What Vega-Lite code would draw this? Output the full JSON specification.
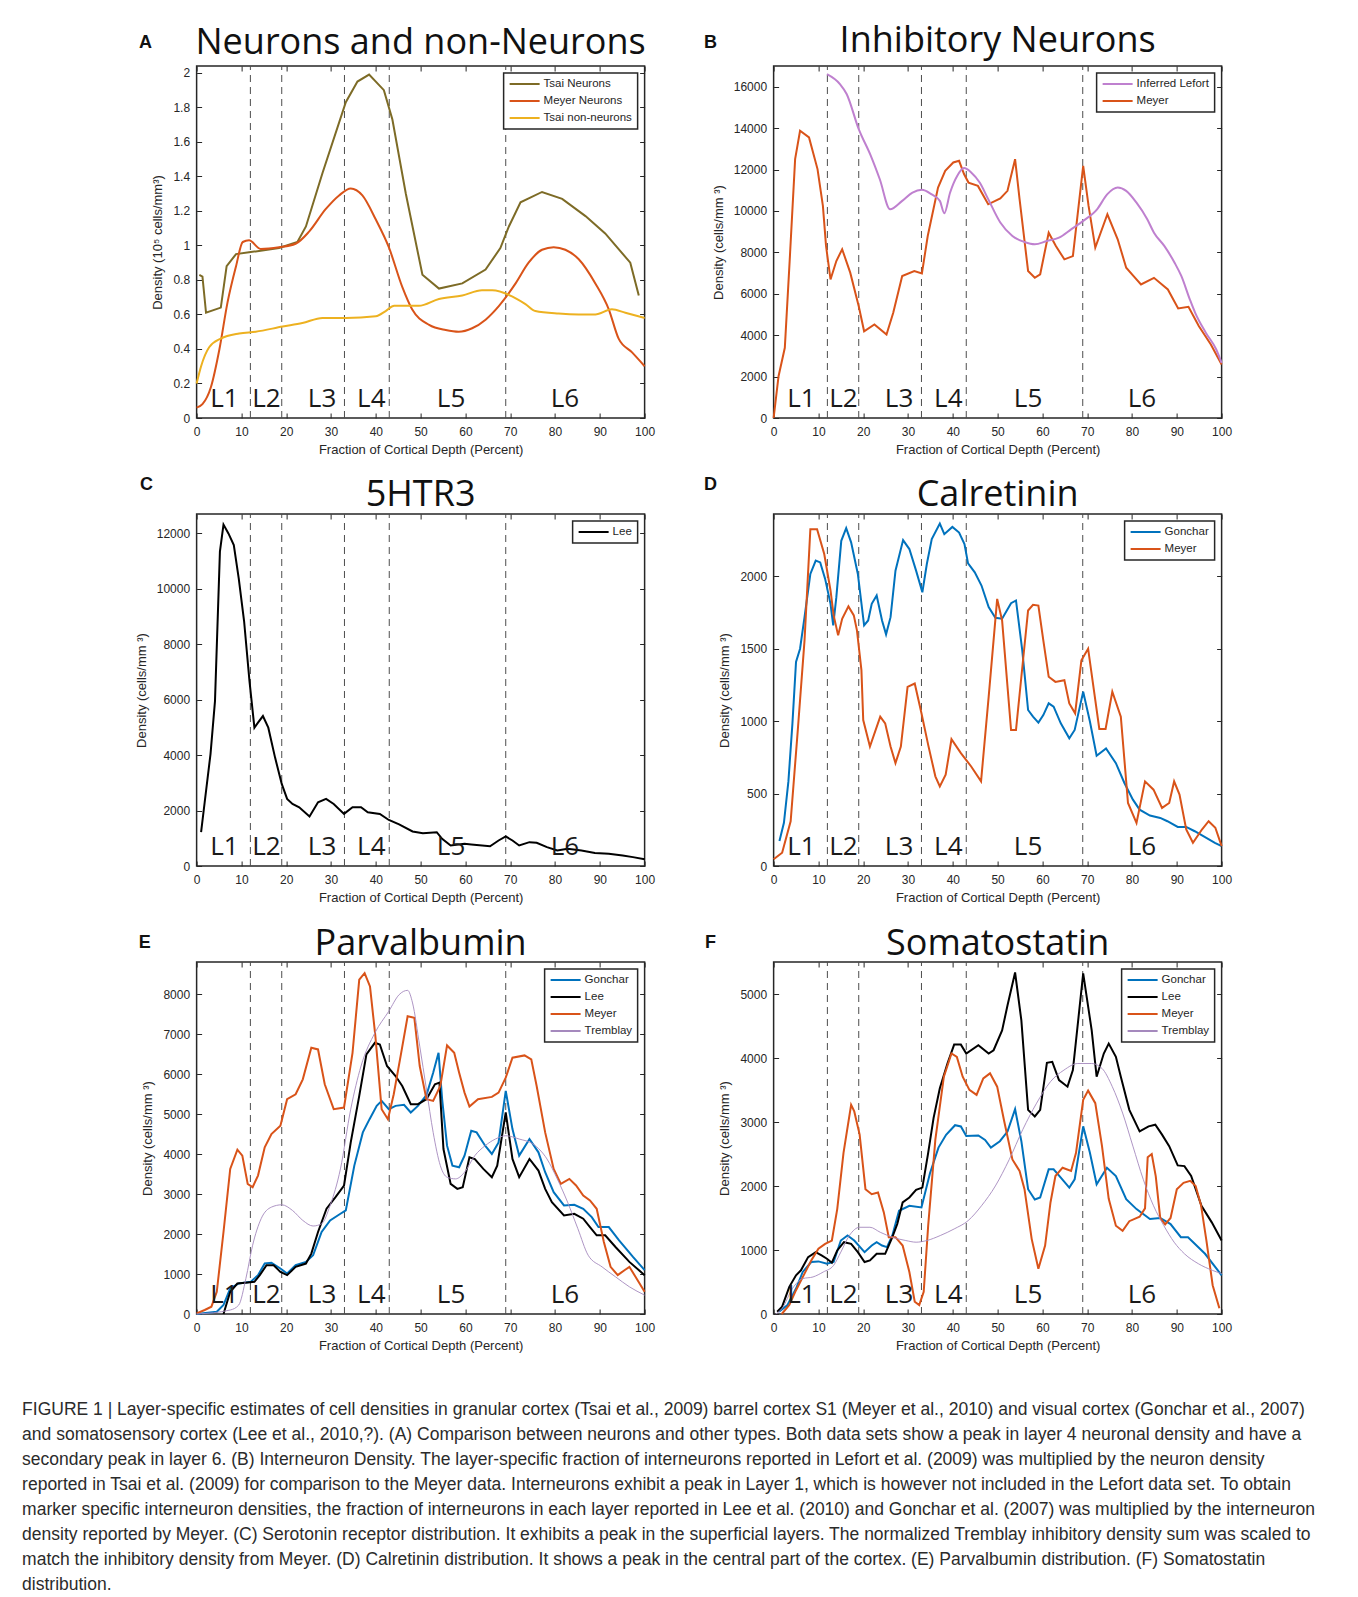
{
  "$schema": "https://vega.github.io/schema/vega-lite/v6.json",
  "background": "white",
  "padding": {"left": 22, "top": 22, "right": 0, "bottom": 0},
  "config": {
    "view": {"stroke": "#262626", "strokeWidth": 1.5},
    "axis": {"domain": false, "grid": false, "tickSize": -5, "tickColor": "#262626", "tickWidth": 1, "labelFont": "Liberation Sans", "labelFontSize": 12, "labelColor": "#262626", "titleFont": "Liberation Sans", "titleFontSize": 13, "titleFontWeight": "normal", "titleColor": "#262626", "minExtent": 0},
    "axisX": {"labelPadding": 13, "titlePadding": 6, "labelFlush": false},
    "axisY": {"labelPadding": 12, "titlePadding": 8, "minExtent": 0},
    "legend": {"orient": "top-right", "offset": 7, "padding": 5, "strokeColor": "#262626", "strokeWidth": 1.5, "fillColor": "white", "labelFont": "Liberation Sans", "labelFontSize": 11.5, "labelColor": "#262626", "symbolSize": 100, "symbolStrokeWidth": 2, "labelOffset": 23, "rowPadding": 5}
  },
  "datasets": {
    "boundaries": [{"depth": 12}, {"depth": 19}, {"depth": 33}, {"depth": 43}, {"depth": 69}],
    "layers": [{"layer": "L1", "center": 6.2}, {"layer": "L2", "center": 15.6}, {"layer": "L3", "center": 28}, {"layer": "L4", "center": 39}, {"layer": "L5", "center": 56.8}, {"layer": "L6", "center": 82.2}],
    "panels": [{"panel": "A", "title": "Neurons and non-Neurons"}, {"panel": "B", "title": "Inhibitory Neurons"}, {"panel": "C", "title": "5HTR3"}, {"panel": "D", "title": "Calretinin"}, {"panel": "E", "title": "Parvalbumin"}, {"panel": "F", "title": "Somatostatin"}],
    "caption": [
      {"line": 1, "text": "FIGURE 1 | Layer-specific estimates of cell densities in granular cortex (Tsai et al., 2009) barrel cortex S1 (Meyer et al., 2010) and visual cortex (Gonchar et al., 2007)"},
      {"line": 2, "text": "and somatosensory cortex (Lee et al., 2010,?). (A) Comparison between neurons and other types. Both data sets show a peak in layer 4 neuronal density and have a"},
      {"line": 3, "text": "secondary peak in layer 6. (B) Interneuron Density. The layer-specific fraction of interneurons reported in Lefort et al. (2009) was multiplied by the neuron density"},
      {"line": 4, "text": "reported in Tsai et al. (2009) for comparison to the Meyer data. Interneurons exhibit a peak in Layer 1, which is however not included in the Lefort data set. To obtain"},
      {"line": 5, "text": "marker specific interneuron densities, the fraction of interneurons in each layer reported in Lee et al. (2010) and Gonchar et al. (2007) was multiplied by the interneuron"},
      {"line": 6, "text": "density reported by Meyer. (C) Serotonin receptor distribution. It exhibits a peak in the superficial layers. The normalized Tremblay inhibitory density sum was scaled to"},
      {"line": 7, "text": "match the inhibitory density from Meyer. (D) Calretinin distribution. It shows a peak in the central part of the cortex. (E) Parvalbumin distribution. (F) Somatostatin"},
      {"line": 8, "text": "distribution."}
    ],
    "A": [
      {"series": "Tsai Neurons", "depth": 0.6, "density": 0.83}, {"series": "Tsai Neurons", "depth": 1.3, "density": 0.82}, {"series": "Tsai Neurons", "depth": 2.1, "density": 0.61}, {"series": "Tsai Neurons", "depth": 5.4, "density": 0.64}, {"series": "Tsai Neurons", "depth": 6.7, "density": 0.88}, {"series": "Tsai Neurons", "depth": 8.8, "density": 0.95}, {"series": "Tsai Neurons", "depth": 11.7, "density": 0.96}, {"series": "Tsai Neurons", "depth": 18.4, "density": 0.985}, {"series": "Tsai Neurons", "depth": 22.5, "density": 1.02}, {"series": "Tsai Neurons", "depth": 24.4, "density": 1.11}, {"series": "Tsai Neurons", "depth": 28.1, "density": 1.42}, {"series": "Tsai Neurons", "depth": 33.3, "density": 1.83}, {"series": "Tsai Neurons", "depth": 35.9, "density": 1.95}, {"series": "Tsai Neurons", "depth": 38.5, "density": 1.99}, {"series": "Tsai Neurons", "depth": 41.8, "density": 1.9}, {"series": "Tsai Neurons", "depth": 43.7, "density": 1.73}, {"series": "Tsai Neurons", "depth": 46.7, "density": 1.3}, {"series": "Tsai Neurons", "depth": 50.4, "density": 0.83}, {"series": "Tsai Neurons", "depth": 54.1, "density": 0.75}, {"series": "Tsai Neurons", "depth": 59.3, "density": 0.78}, {"series": "Tsai Neurons", "depth": 64.5, "density": 0.86}, {"series": "Tsai Neurons", "depth": 67.8, "density": 0.985}, {"series": "Tsai Neurons", "depth": 69.7, "density": 1.11}, {"series": "Tsai Neurons", "depth": 72.3, "density": 1.25}, {"series": "Tsai Neurons", "depth": 77.1, "density": 1.31}, {"series": "Tsai Neurons", "depth": 81.6, "density": 1.27}, {"series": "Tsai Neurons", "depth": 86.8, "density": 1.17}, {"series": "Tsai Neurons", "depth": 91.2, "density": 1.07}, {"series": "Tsai Neurons", "depth": 96.8, "density": 0.9}, {"series": "Tsai Neurons", "depth": 98.7, "density": 0.71},
      {"series": "Meyer Neurons", "depth": 0, "density": 0.06}, {"series": "Meyer Neurons", "depth": 1.3, "density": 0.08}, {"series": "Meyer Neurons", "depth": 3.2, "density": 0.18}, {"series": "Meyer Neurons", "depth": 5.1, "density": 0.4}, {"series": "Meyer Neurons", "depth": 6.9, "density": 0.67}, {"series": "Meyer Neurons", "depth": 8.8, "density": 0.88}, {"series": "Meyer Neurons", "depth": 10.3, "density": 1.02}, {"series": "Meyer Neurons", "depth": 11.7, "density": 1.03}, {"series": "Meyer Neurons", "depth": 14.3, "density": 0.98}, {"series": "Meyer Neurons", "depth": 18.4, "density": 0.99}, {"series": "Meyer Neurons", "depth": 22.1, "density": 1.01}, {"series": "Meyer Neurons", "depth": 25.1, "density": 1.08}, {"series": "Meyer Neurons", "depth": 28.8, "density": 1.21}, {"series": "Meyer Neurons", "depth": 31.8, "density": 1.29}, {"series": "Meyer Neurons", "depth": 34.4, "density": 1.33}, {"series": "Meyer Neurons", "depth": 37, "density": 1.29}, {"series": "Meyer Neurons", "depth": 40, "density": 1.15}, {"series": "Meyer Neurons", "depth": 42.9, "density": 0.99}, {"series": "Meyer Neurons", "depth": 45.9, "density": 0.76}, {"series": "Meyer Neurons", "depth": 48.1, "density": 0.63}, {"series": "Meyer Neurons", "depth": 51.9, "density": 0.54}, {"series": "Meyer Neurons", "depth": 55.6, "density": 0.51}, {"series": "Meyer Neurons", "depth": 58.5, "density": 0.5}, {"series": "Meyer Neurons", "depth": 61.5, "density": 0.52}, {"series": "Meyer Neurons", "depth": 64.5, "density": 0.57}, {"series": "Meyer Neurons", "depth": 67.5, "density": 0.65}, {"series": "Meyer Neurons", "depth": 71.2, "density": 0.78}, {"series": "Meyer Neurons", "depth": 74.1, "density": 0.9}, {"series": "Meyer Neurons", "depth": 77.1, "density": 0.975}, {"series": "Meyer Neurons", "depth": 79.7, "density": 0.99}, {"series": "Meyer Neurons", "depth": 82.3, "density": 0.975}, {"series": "Meyer Neurons", "depth": 85.3, "density": 0.92}, {"series": "Meyer Neurons", "depth": 89, "density": 0.78}, {"series": "Meyer Neurons", "depth": 92, "density": 0.63}, {"series": "Meyer Neurons", "depth": 94.2, "density": 0.46}, {"series": "Meyer Neurons", "depth": 97.2, "density": 0.38}, {"series": "Meyer Neurons", "depth": 100, "density": 0.3},
      {"series": "Tsai non-neurons", "depth": 0, "density": 0.2}, {"series": "Tsai non-neurons", "depth": 1, "density": 0.3}, {"series": "Tsai non-neurons", "depth": 2.8, "density": 0.41}, {"series": "Tsai non-neurons", "depth": 5.4, "density": 0.46}, {"series": "Tsai non-neurons", "depth": 9.5, "density": 0.49}, {"series": "Tsai non-neurons", "depth": 13.2, "density": 0.5}, {"series": "Tsai non-neurons", "depth": 19.2, "density": 0.53}, {"series": "Tsai non-neurons", "depth": 23.6, "density": 0.55}, {"series": "Tsai non-neurons", "depth": 28.1, "density": 0.58}, {"series": "Tsai non-neurons", "depth": 33.3, "density": 0.58}, {"series": "Tsai non-neurons", "depth": 40, "density": 0.59}, {"series": "Tsai non-neurons", "depth": 42.2, "density": 0.62}, {"series": "Tsai non-neurons", "depth": 44.1, "density": 0.65}, {"series": "Tsai non-neurons", "depth": 49.6, "density": 0.65}, {"series": "Tsai non-neurons", "depth": 54.1, "density": 0.69}, {"series": "Tsai non-neurons", "depth": 59.3, "density": 0.71}, {"series": "Tsai non-neurons", "depth": 63.7, "density": 0.74}, {"series": "Tsai non-neurons", "depth": 66, "density": 0.74}, {"series": "Tsai non-neurons", "depth": 70.4, "density": 0.705}, {"series": "Tsai non-neurons", "depth": 73.4, "density": 0.66}, {"series": "Tsai non-neurons", "depth": 75.6, "density": 0.62}, {"series": "Tsai non-neurons", "depth": 80.8, "density": 0.605}, {"series": "Tsai non-neurons", "depth": 85.3, "density": 0.6}, {"series": "Tsai non-neurons", "depth": 89, "density": 0.6}, {"series": "Tsai non-neurons", "depth": 92.7, "density": 0.63}, {"series": "Tsai non-neurons", "depth": 95.7, "density": 0.61}, {"series": "Tsai non-neurons", "depth": 100, "density": 0.58}
    ],
    "B": [
      {"series": "Inferred Lefort", "depth": 11.9, "density": 16610}, {"series": "Inferred Lefort", "depth": 14.8, "density": 16130}, {"series": "Inferred Lefort", "depth": 16.3, "density": 15650}, {"series": "Inferred Lefort", "depth": 19, "density": 13950}, {"series": "Inferred Lefort", "depth": 21.7, "density": 12660}, {"series": "Inferred Lefort", "depth": 23.7, "density": 11530}, {"series": "Inferred Lefort", "depth": 26, "density": 10080}, {"series": "Inferred Lefort", "depth": 28.7, "density": 10485}, {"series": "Inferred Lefort", "depth": 31, "density": 10890}, {"series": "Inferred Lefort", "depth": 33.1, "density": 11020}, {"series": "Inferred Lefort", "depth": 35.2, "density": 10810}, {"series": "Inferred Lefort", "depth": 37.1, "density": 10485}, {"series": "Inferred Lefort", "depth": 38.1, "density": 9890}, {"series": "Inferred Lefort", "depth": 39.4, "density": 10890}, {"series": "Inferred Lefort", "depth": 41, "density": 11700}, {"series": "Inferred Lefort", "depth": 42.5, "density": 12070}, {"series": "Inferred Lefort", "depth": 44.1, "density": 11860}, {"series": "Inferred Lefort", "depth": 46, "density": 11370}, {"series": "Inferred Lefort", "depth": 47.9, "density": 10570}, {"series": "Inferred Lefort", "depth": 50.6, "density": 9440}, {"series": "Inferred Lefort", "depth": 53.3, "density": 8790}, {"series": "Inferred Lefort", "depth": 56, "density": 8500}, {"series": "Inferred Lefort", "depth": 58.3, "density": 8390}, {"series": "Inferred Lefort", "depth": 61, "density": 8550}, {"series": "Inferred Lefort", "depth": 63.7, "density": 8710}, {"series": "Inferred Lefort", "depth": 66.4, "density": 9110}, {"series": "Inferred Lefort", "depth": 69.1, "density": 9520}, {"series": "Inferred Lefort", "depth": 72.2, "density": 10080}, {"series": "Inferred Lefort", "depth": 74.5, "density": 10810}, {"series": "Inferred Lefort", "depth": 76.8, "density": 11130}, {"series": "Inferred Lefort", "depth": 78.7, "density": 10970}, {"series": "Inferred Lefort", "depth": 81, "density": 10400}, {"series": "Inferred Lefort", "depth": 83.4, "density": 9600}, {"series": "Inferred Lefort", "depth": 84.9, "density": 8950}, {"series": "Inferred Lefort", "depth": 87.2, "density": 8310}, {"series": "Inferred Lefort", "depth": 89.5, "density": 7500}, {"series": "Inferred Lefort", "depth": 91, "density": 6860}, {"series": "Inferred Lefort", "depth": 92.9, "density": 5730}, {"series": "Inferred Lefort", "depth": 94.1, "density": 5080}, {"series": "Inferred Lefort", "depth": 96.5, "density": 4110}, {"series": "Inferred Lefort", "depth": 98.8, "density": 3310}, {"series": "Inferred Lefort", "depth": 100, "density": 2660},
      {"series": "Meyer", "depth": 0, "density": 0}, {"series": "Meyer", "depth": 1.1, "density": 2020}, {"series": "Meyer", "depth": 2.5, "density": 3390}, {"series": "Meyer", "depth": 3.6, "density": 7660}, {"series": "Meyer", "depth": 4.8, "density": 12500}, {"series": "Meyer", "depth": 5.9, "density": 13870}, {"series": "Meyer", "depth": 7.9, "density": 13550}, {"series": "Meyer", "depth": 9.8, "density": 12020}, {"series": "Meyer", "depth": 11, "density": 10240}, {"series": "Meyer", "depth": 11.7, "density": 8310}, {"series": "Meyer", "depth": 12.7, "density": 6690}, {"series": "Meyer", "depth": 14, "density": 7580}, {"series": "Meyer", "depth": 15.3, "density": 8150}, {"series": "Meyer", "depth": 17.1, "density": 7020}, {"series": "Meyer", "depth": 19, "density": 5400}, {"series": "Meyer", "depth": 20.2, "density": 4190}, {"series": "Meyer", "depth": 22.5, "density": 4520}, {"series": "Meyer", "depth": 25.2, "density": 4030}, {"series": "Meyer", "depth": 26.7, "density": 5080}, {"series": "Meyer", "depth": 28.7, "density": 6860}, {"series": "Meyer", "depth": 31.4, "density": 7100}, {"series": "Meyer", "depth": 33.1, "density": 6980}, {"series": "Meyer", "depth": 34.4, "density": 8790}, {"series": "Meyer", "depth": 36.7, "density": 11130}, {"series": "Meyer", "depth": 38.3, "density": 11940}, {"series": "Meyer", "depth": 40.1, "density": 12340}, {"series": "Meyer", "depth": 41.4, "density": 12420}, {"series": "Meyer", "depth": 42.5, "density": 11780}, {"series": "Meyer", "depth": 43.5, "density": 11370}, {"series": "Meyer", "depth": 45.6, "density": 11210}, {"series": "Meyer", "depth": 47.9, "density": 10320}, {"series": "Meyer", "depth": 50.6, "density": 10600}, {"series": "Meyer", "depth": 52.2, "density": 10970}, {"series": "Meyer", "depth": 53.9, "density": 12500}, {"series": "Meyer", "depth": 54.9, "density": 10570}, {"series": "Meyer", "depth": 56.8, "density": 7100}, {"series": "Meyer", "depth": 58.3, "density": 6770}, {"series": "Meyer", "depth": 59.5, "density": 6940}, {"series": "Meyer", "depth": 61.4, "density": 8950}, {"series": "Meyer", "depth": 63, "density": 8310}, {"series": "Meyer", "depth": 64.9, "density": 7660}, {"series": "Meyer", "depth": 66.8, "density": 7820}, {"series": "Meyer", "depth": 69.1, "density": 12180}, {"series": "Meyer", "depth": 70.3, "density": 10240}, {"series": "Meyer", "depth": 71.8, "density": 8230}, {"series": "Meyer", "depth": 74.5, "density": 9840}, {"series": "Meyer", "depth": 76.8, "density": 8630}, {"series": "Meyer", "depth": 78.7, "density": 7260}, {"series": "Meyer", "depth": 80.3, "density": 6860}, {"series": "Meyer", "depth": 82, "density": 6450}, {"series": "Meyer", "depth": 84.9, "density": 6770}, {"series": "Meyer", "depth": 88, "density": 6210}, {"series": "Meyer", "depth": 90.3, "density": 5290}, {"series": "Meyer", "depth": 92.6, "density": 5370}, {"series": "Meyer", "depth": 94.9, "density": 4440}, {"series": "Meyer", "depth": 97.6, "density": 3550}, {"series": "Meyer", "depth": 100, "density": 2580}
    ],
    "C": [
      {"series": "Lee", "depth": 1, "density": 1220}, {"series": "Lee", "depth": 1.8, "density": 2300}, {"series": "Lee", "depth": 3.1, "density": 4040}, {"series": "Lee", "depth": 4.1, "density": 5950}, {"series": "Lee", "depth": 5.2, "density": 11340}, {"series": "Lee", "depth": 6, "density": 12320}, {"series": "Lee", "depth": 7.1, "density": 12000}, {"series": "Lee", "depth": 8.3, "density": 11580}, {"series": "Lee", "depth": 9.4, "density": 10380}, {"series": "Lee", "depth": 10.6, "density": 8830}, {"series": "Lee", "depth": 11.8, "density": 6670}, {"series": "Lee", "depth": 12.9, "density": 4990}, {"series": "Lee", "depth": 13.7, "density": 5170}, {"series": "Lee", "depth": 14.8, "density": 5410}, {"series": "Lee", "depth": 16, "density": 4990}, {"series": "Lee", "depth": 17.5, "density": 3920}, {"series": "Lee", "depth": 19, "density": 2960}, {"series": "Lee", "depth": 20.2, "density": 2420}, {"series": "Lee", "depth": 21.4, "density": 2240}, {"series": "Lee", "depth": 22.9, "density": 2120}, {"series": "Lee", "depth": 25.2, "density": 1785}, {"series": "Lee", "depth": 27.1, "density": 2300}, {"series": "Lee", "depth": 28.9, "density": 2420}, {"series": "Lee", "depth": 30.6, "density": 2240}, {"series": "Lee", "depth": 32.9, "density": 1880}, {"series": "Lee", "depth": 34.8, "density": 2120}, {"series": "Lee", "depth": 36.7, "density": 2120}, {"series": "Lee", "depth": 38.2, "density": 1940}, {"series": "Lee", "depth": 40.9, "density": 1880}, {"series": "Lee", "depth": 42.9, "density": 1660}, {"series": "Lee", "depth": 45.2, "density": 1500}, {"series": "Lee", "depth": 48.2, "density": 1245}, {"series": "Lee", "depth": 50.5, "density": 1185}, {"series": "Lee", "depth": 53.6, "density": 1220}, {"series": "Lee", "depth": 54.8, "density": 980}, {"series": "Lee", "depth": 56.7, "density": 740}, {"series": "Lee", "depth": 59.8, "density": 800}, {"series": "Lee", "depth": 61.3, "density": 780}, {"series": "Lee", "depth": 65.5, "density": 710}, {"series": "Lee", "depth": 67.4, "density": 920}, {"series": "Lee", "depth": 69, "density": 1065}, {"series": "Lee", "depth": 70.5, "density": 920}, {"series": "Lee", "depth": 72, "density": 740}, {"series": "Lee", "depth": 74.3, "density": 860}, {"series": "Lee", "depth": 75.9, "density": 840}, {"series": "Lee", "depth": 78.2, "density": 680}, {"series": "Lee", "depth": 80.5, "density": 560}, {"series": "Lee", "depth": 82.8, "density": 620}, {"series": "Lee", "depth": 85.9, "density": 560}, {"series": "Lee", "depth": 88.9, "density": 470}, {"series": "Lee", "depth": 92, "density": 440}, {"series": "Lee", "depth": 95.1, "density": 380}, {"series": "Lee", "depth": 97.4, "density": 320}, {"series": "Lee", "depth": 100, "density": 240}
    ],
    "D": [
      {"series": "Gonchar", "depth": 1.3, "density": 172}, {"series": "Gonchar", "depth": 2.3, "density": 298}, {"series": "Gonchar", "depth": 3.3, "density": 584}, {"series": "Gonchar", "depth": 4.2, "density": 985}, {"series": "Gonchar", "depth": 5, "density": 1409}, {"series": "Gonchar", "depth": 5.9, "density": 1500}, {"series": "Gonchar", "depth": 6.9, "density": 1718}, {"series": "Gonchar", "depth": 8.2, "density": 2016}, {"series": "Gonchar", "depth": 9.4, "density": 2108}, {"series": "Gonchar", "depth": 10.4, "density": 2096}, {"series": "Gonchar", "depth": 11.5, "density": 1982}, {"series": "Gonchar", "depth": 12.7, "density": 1810}, {"series": "Gonchar", "depth": 13.3, "density": 1661}, {"series": "Gonchar", "depth": 14, "density": 1856}, {"series": "Gonchar", "depth": 15.1, "density": 2245}, {"series": "Gonchar", "depth": 16.2, "density": 2332}, {"series": "Gonchar", "depth": 17.3, "density": 2234}, {"series": "Gonchar", "depth": 18.8, "density": 2016}, {"series": "Gonchar", "depth": 20.2, "density": 1661}, {"series": "Gonchar", "depth": 21.1, "density": 1695}, {"series": "Gonchar", "depth": 21.9, "density": 1810}, {"series": "Gonchar", "depth": 23, "density": 1867}, {"series": "Gonchar", "depth": 24.2, "density": 1695}, {"series": "Gonchar", "depth": 25.1, "density": 1599}, {"series": "Gonchar", "depth": 26.1, "density": 1718}, {"series": "Gonchar", "depth": 27.2, "density": 2039}, {"series": "Gonchar", "depth": 28.9, "density": 2250}, {"series": "Gonchar", "depth": 30.3, "density": 2188}, {"series": "Gonchar", "depth": 31.8, "density": 2039}, {"series": "Gonchar", "depth": 33.2, "density": 1890}, {"series": "Gonchar", "depth": 34.2, "density": 2085}, {"series": "Gonchar", "depth": 35.3, "density": 2257}, {"series": "Gonchar", "depth": 37.1, "density": 2364}, {"series": "Gonchar", "depth": 38.1, "density": 2291}, {"series": "Gonchar", "depth": 39.9, "density": 2341}, {"series": "Gonchar", "depth": 41.4, "density": 2302}, {"series": "Gonchar", "depth": 42.6, "density": 2222}, {"series": "Gonchar", "depth": 43.4, "density": 2089}, {"series": "Gonchar", "depth": 44.9, "density": 2027}, {"series": "Gonchar", "depth": 46.4, "density": 1936}, {"series": "Gonchar", "depth": 48, "density": 1787}, {"series": "Gonchar", "depth": 49.5, "density": 1714}, {"series": "Gonchar", "depth": 51, "density": 1707}, {"series": "Gonchar", "depth": 53, "density": 1814}, {"series": "Gonchar", "depth": 54.1, "density": 1833}, {"series": "Gonchar", "depth": 55.5, "density": 1489}, {"series": "Gonchar", "depth": 56.8, "density": 1077}, {"series": "Gonchar", "depth": 57.9, "density": 1031}, {"series": "Gonchar", "depth": 59.1, "density": 990}, {"series": "Gonchar", "depth": 60.2, "density": 1042}, {"series": "Gonchar", "depth": 61.4, "density": 1123}, {"series": "Gonchar", "depth": 62.5, "density": 1100}, {"series": "Gonchar", "depth": 64.1, "density": 985}, {"series": "Gonchar", "depth": 66, "density": 882}, {"series": "Gonchar", "depth": 67.2, "density": 939}, {"series": "Gonchar", "depth": 69.1, "density": 1203}, {"series": "Gonchar", "depth": 70.6, "density": 997}, {"series": "Gonchar", "depth": 72.1, "density": 761}, {"series": "Gonchar", "depth": 74.2, "density": 811}, {"series": "Gonchar", "depth": 76.4, "density": 710}, {"series": "Gonchar", "depth": 78.3, "density": 573}, {"series": "Gonchar", "depth": 80.2, "density": 458}, {"series": "Gonchar", "depth": 81.7, "density": 389}, {"series": "Gonchar", "depth": 84, "density": 348}, {"series": "Gonchar", "depth": 86.3, "density": 332}, {"series": "Gonchar", "depth": 87.9, "density": 309}, {"series": "Gonchar", "depth": 90.2, "density": 270}, {"series": "Gonchar", "depth": 92.1, "density": 270}, {"series": "Gonchar", "depth": 94, "density": 240}, {"series": "Gonchar", "depth": 96.3, "density": 199}, {"series": "Gonchar", "depth": 98.5, "density": 160}, {"series": "Gonchar", "depth": 100, "density": 137},
      {"series": "Meyer", "depth": 0, "density": 46}, {"series": "Meyer", "depth": 1.9, "density": 92}, {"series": "Meyer", "depth": 3.8, "density": 309}, {"series": "Meyer", "depth": 5.4, "density": 940}, {"series": "Meyer", "depth": 6.9, "density": 1558}, {"series": "Meyer", "depth": 8.2, "density": 2325}, {"series": "Meyer", "depth": 9.7, "density": 2325}, {"series": "Meyer", "depth": 11.3, "density": 2154}, {"series": "Meyer", "depth": 12.7, "density": 1902}, {"series": "Meyer", "depth": 13.4, "density": 1730}, {"series": "Meyer", "depth": 14.4, "density": 1592}, {"series": "Meyer", "depth": 15.3, "density": 1707}, {"series": "Meyer", "depth": 16.7, "density": 1792}, {"series": "Meyer", "depth": 17.9, "density": 1730}, {"series": "Meyer", "depth": 18.6, "density": 1627}, {"series": "Meyer", "depth": 19.6, "density": 1352}, {"series": "Meyer", "depth": 20, "density": 1008}, {"series": "Meyer", "depth": 21.5, "density": 825}, {"series": "Meyer", "depth": 23.8, "density": 1031}, {"series": "Meyer", "depth": 24.9, "density": 985}, {"series": "Meyer", "depth": 26.1, "density": 825}, {"series": "Meyer", "depth": 27.2, "density": 710}, {"series": "Meyer", "depth": 28.4, "density": 825}, {"series": "Meyer", "depth": 29.9, "density": 1237}, {"series": "Meyer", "depth": 31.5, "density": 1260}, {"series": "Meyer", "depth": 33, "density": 1054}, {"series": "Meyer", "depth": 34.5, "density": 836}, {"series": "Meyer", "depth": 36.1, "density": 619}, {"series": "Meyer", "depth": 37.1, "density": 550}, {"series": "Meyer", "depth": 38.4, "density": 630}, {"series": "Meyer", "depth": 39.7, "density": 875}, {"series": "Meyer", "depth": 41.8, "density": 779}, {"series": "Meyer", "depth": 44.1, "density": 687}, {"series": "Meyer", "depth": 46.3, "density": 584}, {"series": "Meyer", "depth": 48, "density": 1168}, {"series": "Meyer", "depth": 49.9, "density": 1844}, {"series": "Meyer", "depth": 51, "density": 1695}, {"series": "Meyer", "depth": 53, "density": 939}, {"series": "Meyer", "depth": 54.1, "density": 939}, {"series": "Meyer", "depth": 55.6, "density": 1398}, {"series": "Meyer", "depth": 56.8, "density": 1764}, {"series": "Meyer", "depth": 57.9, "density": 1803}, {"series": "Meyer", "depth": 59.1, "density": 1798}, {"series": "Meyer", "depth": 60.2, "density": 1558}, {"series": "Meyer", "depth": 61.4, "density": 1306}, {"series": "Meyer", "depth": 62.9, "density": 1271}, {"series": "Meyer", "depth": 64.9, "density": 1283}, {"series": "Meyer", "depth": 66, "density": 1122}, {"series": "Meyer", "depth": 67.3, "density": 1054}, {"series": "Meyer", "depth": 68.7, "density": 1420}, {"series": "Meyer", "depth": 70.2, "density": 1500}, {"series": "Meyer", "depth": 72.7, "density": 946}, {"series": "Meyer", "depth": 74.1, "density": 946}, {"series": "Meyer", "depth": 75.6, "density": 1203}, {"series": "Meyer", "depth": 77.5, "density": 1031}, {"series": "Meyer", "depth": 79.1, "density": 435}, {"series": "Meyer", "depth": 81, "density": 298}, {"series": "Meyer", "depth": 82.9, "density": 584}, {"series": "Meyer", "depth": 84.8, "density": 527}, {"series": "Meyer", "depth": 86.7, "density": 401}, {"series": "Meyer", "depth": 88.3, "density": 435}, {"series": "Meyer", "depth": 89.4, "density": 584}, {"series": "Meyer", "depth": 90.6, "density": 493}, {"series": "Meyer", "depth": 92.1, "density": 252}, {"series": "Meyer", "depth": 93.6, "density": 160}, {"series": "Meyer", "depth": 95.6, "density": 252}, {"series": "Meyer", "depth": 97.1, "density": 309}, {"series": "Meyer", "depth": 98.6, "density": 264}, {"series": "Meyer", "depth": 100, "density": 137}
    ],
    "E": [
      {"series": "Gonchar", "depth": 0, "density": 0}, {"series": "Gonchar", "depth": 4.5, "density": 58}, {"series": "Gonchar", "depth": 6, "density": 224}, {"series": "Gonchar", "depth": 7.5, "density": 639}, {"series": "Gonchar", "depth": 9.4, "density": 763}, {"series": "Gonchar", "depth": 12.1, "density": 805}, {"series": "Gonchar", "depth": 13.7, "density": 971}, {"series": "Gonchar", "depth": 15.2, "density": 1261}, {"series": "Gonchar", "depth": 16.7, "density": 1278}, {"series": "Gonchar", "depth": 18.7, "density": 1137}, {"series": "Gonchar", "depth": 20.2, "density": 1012}, {"series": "Gonchar", "depth": 22.1, "density": 1220}, {"series": "Gonchar", "depth": 24.4, "density": 1303}, {"series": "Gonchar", "depth": 26, "density": 1469}, {"series": "Gonchar", "depth": 27.9, "density": 2050}, {"series": "Gonchar", "depth": 29.8, "density": 2340}, {"series": "Gonchar", "depth": 32.1, "density": 2506}, {"series": "Gonchar", "depth": 33.3, "density": 2589}, {"series": "Gonchar", "depth": 35.2, "density": 3710}, {"series": "Gonchar", "depth": 37.1, "density": 4540}, {"series": "Gonchar", "depth": 38.6, "density": 4871}, {"series": "Gonchar", "depth": 40.2, "density": 5203}, {"series": "Gonchar", "depth": 41.3, "density": 5328}, {"series": "Gonchar", "depth": 42.9, "density": 5120}, {"series": "Gonchar", "depth": 44.4, "density": 5203}, {"series": "Gonchar", "depth": 46.3, "density": 5228}, {"series": "Gonchar", "depth": 47.8, "density": 5037}, {"series": "Gonchar", "depth": 49.4, "density": 5203}, {"series": "Gonchar", "depth": 51.3, "density": 5469}, {"series": "Gonchar", "depth": 52.8, "density": 6033}, {"series": "Gonchar", "depth": 54, "density": 6531}, {"series": "Gonchar", "depth": 54.8, "density": 5370}, {"series": "Gonchar", "depth": 55.9, "density": 4208}, {"series": "Gonchar", "depth": 57.1, "density": 3710}, {"series": "Gonchar", "depth": 58.6, "density": 3668}, {"series": "Gonchar", "depth": 59.8, "density": 3959}, {"series": "Gonchar", "depth": 61.3, "density": 4581}, {"series": "Gonchar", "depth": 62.5, "density": 4540}, {"series": "Gonchar", "depth": 64.4, "density": 4208}, {"series": "Gonchar", "depth": 65.9, "density": 4000}, {"series": "Gonchar", "depth": 67.4, "density": 4290}, {"series": "Gonchar", "depth": 69, "density": 5577}, {"series": "Gonchar", "depth": 70.5, "density": 4623}, {"series": "Gonchar", "depth": 72, "density": 3959}, {"series": "Gonchar", "depth": 74.3, "density": 4374}, {"series": "Gonchar", "depth": 76.3, "density": 4042}, {"series": "Gonchar", "depth": 77.8, "density": 3544}, {"series": "Gonchar", "depth": 79.7, "density": 3046}, {"series": "Gonchar", "depth": 82, "density": 2714}, {"series": "Gonchar", "depth": 84.3, "density": 2730}, {"series": "Gonchar", "depth": 86.3, "density": 2631}, {"series": "Gonchar", "depth": 88.2, "density": 2423}, {"series": "Gonchar", "depth": 89.7, "density": 2174}, {"series": "Gonchar", "depth": 92, "density": 2174}, {"series": "Gonchar", "depth": 94.3, "density": 1842}, {"series": "Gonchar", "depth": 97.4, "density": 1427}, {"series": "Gonchar", "depth": 100, "density": 1095},
      {"series": "Lee", "depth": 6, "density": 0}, {"series": "Lee", "depth": 7.5, "density": 556}, {"series": "Lee", "depth": 9.1, "density": 763}, {"series": "Lee", "depth": 11.4, "density": 788}, {"series": "Lee", "depth": 12.9, "density": 805}, {"series": "Lee", "depth": 14.1, "density": 971}, {"series": "Lee", "depth": 15.6, "density": 1220}, {"series": "Lee", "depth": 17.2, "density": 1220}, {"series": "Lee", "depth": 18.7, "density": 1054}, {"series": "Lee", "depth": 20.2, "density": 971}, {"series": "Lee", "depth": 22.1, "density": 1178}, {"series": "Lee", "depth": 24.4, "density": 1261}, {"series": "Lee", "depth": 25.6, "density": 1510}, {"series": "Lee", "depth": 27.1, "density": 2050}, {"series": "Lee", "depth": 29, "density": 2631}, {"series": "Lee", "depth": 31, "density": 2921}, {"series": "Lee", "depth": 32.9, "density": 3212}, {"series": "Lee", "depth": 34.4, "density": 4290}, {"series": "Lee", "depth": 36.3, "density": 5453}, {"series": "Lee", "depth": 37.9, "density": 6490}, {"series": "Lee", "depth": 39.8, "density": 6780}, {"series": "Lee", "depth": 40.9, "density": 6739}, {"series": "Lee", "depth": 42.5, "density": 6200}, {"series": "Lee", "depth": 44.4, "density": 5950}, {"series": "Lee", "depth": 45.9, "density": 5700}, {"series": "Lee", "depth": 47.8, "density": 5245}, {"series": "Lee", "depth": 49.4, "density": 5245}, {"series": "Lee", "depth": 51.3, "density": 5370}, {"series": "Lee", "depth": 53.2, "density": 5743}, {"series": "Lee", "depth": 54.2, "density": 5784}, {"series": "Lee", "depth": 55.1, "density": 4125}, {"series": "Lee", "depth": 56.7, "density": 3253}, {"series": "Lee", "depth": 58.2, "density": 3129}, {"series": "Lee", "depth": 59.4, "density": 3170}, {"series": "Lee", "depth": 60.9, "density": 3917}, {"series": "Lee", "depth": 62.1, "density": 3875}, {"series": "Lee", "depth": 64, "density": 3627}, {"series": "Lee", "depth": 65.9, "density": 3420}, {"series": "Lee", "depth": 67.1, "density": 3710}, {"series": "Lee", "depth": 69, "density": 5038}, {"series": "Lee", "depth": 70.5, "density": 3876}, {"series": "Lee", "depth": 72, "density": 3420}, {"series": "Lee", "depth": 74.3, "density": 3876}, {"series": "Lee", "depth": 76.3, "density": 3585}, {"series": "Lee", "depth": 77.8, "density": 3129}, {"series": "Lee", "depth": 79.3, "density": 2797}, {"series": "Lee", "depth": 82, "density": 2465}, {"series": "Lee", "depth": 84.3, "density": 2506}, {"series": "Lee", "depth": 86.3, "density": 2382}, {"series": "Lee", "depth": 87.8, "density": 2174}, {"series": "Lee", "depth": 89.3, "density": 1967}, {"series": "Lee", "depth": 91.2, "density": 1967}, {"series": "Lee", "depth": 93.5, "density": 1676}, {"series": "Lee", "depth": 96.6, "density": 1303}, {"series": "Lee", "depth": 100, "density": 971},
      {"series": "Meyer", "depth": 0, "density": 17}, {"series": "Meyer", "depth": 1.8, "density": 100}, {"series": "Meyer", "depth": 3.3, "density": 183}, {"series": "Meyer", "depth": 4.5, "density": 556}, {"series": "Meyer", "depth": 6, "density": 2050}, {"series": "Meyer", "depth": 7.5, "density": 3627}, {"series": "Meyer", "depth": 9.1, "density": 4108}, {"series": "Meyer", "depth": 10.2, "density": 3960}, {"series": "Meyer", "depth": 11.4, "density": 3250}, {"series": "Meyer", "depth": 12.5, "density": 3170}, {"series": "Meyer", "depth": 13.7, "density": 3460}, {"series": "Meyer", "depth": 15.2, "density": 4166}, {"series": "Meyer", "depth": 16.7, "density": 4500}, {"series": "Meyer", "depth": 18.7, "density": 4705}, {"series": "Meyer", "depth": 20.2, "density": 5370}, {"series": "Meyer", "depth": 22.1, "density": 5494}, {"series": "Meyer", "depth": 23.7, "density": 5867}, {"series": "Meyer", "depth": 25.6, "density": 6656}, {"series": "Meyer", "depth": 27.1, "density": 6614}, {"series": "Meyer", "depth": 28.6, "density": 5743}, {"series": "Meyer", "depth": 30.6, "density": 5120}, {"series": "Meyer", "depth": 32.9, "density": 5162}, {"series": "Meyer", "depth": 34.8, "density": 6530}, {"series": "Meyer", "depth": 36.3, "density": 8357}, {"series": "Meyer", "depth": 37.5, "density": 8523}, {"series": "Meyer", "depth": 38.7, "density": 8190}, {"series": "Meyer", "depth": 39.9, "density": 6946}, {"series": "Meyer", "depth": 41.3, "density": 5120}, {"series": "Meyer", "depth": 42.7, "density": 4870}, {"series": "Meyer", "depth": 44, "density": 5494}, {"series": "Meyer", "depth": 45.6, "density": 6490}, {"series": "Meyer", "depth": 47.1, "density": 7444}, {"series": "Meyer", "depth": 48.6, "density": 7403}, {"series": "Meyer", "depth": 49.8, "density": 6200}, {"series": "Meyer", "depth": 51.3, "density": 5370}, {"series": "Meyer", "depth": 52.8, "density": 5328}, {"series": "Meyer", "depth": 54.4, "density": 5700}, {"series": "Meyer", "depth": 55.9, "density": 6714}, {"series": "Meyer", "depth": 57.5, "density": 6531}, {"series": "Meyer", "depth": 58.6, "density": 6033}, {"series": "Meyer", "depth": 59.8, "density": 5535}, {"series": "Meyer", "depth": 60.9, "density": 5187}, {"series": "Meyer", "depth": 62.8, "density": 5370}, {"series": "Meyer", "depth": 65.9, "density": 5428}, {"series": "Meyer", "depth": 67.4, "density": 5535}, {"series": "Meyer", "depth": 69, "density": 5909}, {"series": "Meyer", "depth": 70.5, "density": 6407}, {"series": "Meyer", "depth": 73.2, "density": 6465}, {"series": "Meyer", "depth": 74.7, "density": 6365}, {"series": "Meyer", "depth": 75.9, "density": 5700}, {"series": "Meyer", "depth": 77.8, "density": 4540}, {"series": "Meyer", "depth": 79.7, "density": 3627}, {"series": "Meyer", "depth": 81.3, "density": 3253}, {"series": "Meyer", "depth": 83.2, "density": 3378}, {"series": "Meyer", "depth": 84.7, "density": 3212}, {"series": "Meyer", "depth": 86.3, "density": 2963}, {"series": "Meyer", "depth": 87.8, "density": 2838}, {"series": "Meyer", "depth": 89.3, "density": 2631}, {"series": "Meyer", "depth": 90.9, "density": 1801}, {"series": "Meyer", "depth": 92.4, "density": 1179}, {"series": "Meyer", "depth": 94, "density": 971}, {"series": "Meyer", "depth": 95.5, "density": 1095}, {"series": "Meyer", "depth": 96.6, "density": 1179}, {"series": "Meyer", "depth": 98.2, "density": 888}, {"series": "Meyer", "depth": 100, "density": 556},
      {"series": "Tremblay", "depth": 0, "density": 0}, {"series": "Tremblay", "depth": 7.5, "density": 100}, {"series": "Tremblay", "depth": 9.4, "density": 224}, {"series": "Tremblay", "depth": 11, "density": 888}, {"series": "Tremblay", "depth": 12.5, "density": 1718}, {"series": "Tremblay", "depth": 14.4, "density": 2382}, {"series": "Tremblay", "depth": 16.7, "density": 2672}, {"series": "Tremblay", "depth": 19, "density": 2730}, {"series": "Tremblay", "depth": 21.4, "density": 2589}, {"series": "Tremblay", "depth": 23.7, "density": 2340}, {"series": "Tremblay", "depth": 26, "density": 2200}, {"series": "Tremblay", "depth": 27.9, "density": 2257}, {"series": "Tremblay", "depth": 29.8, "density": 2714}, {"series": "Tremblay", "depth": 32.1, "density": 3627}, {"series": "Tremblay", "depth": 34.4, "density": 5120}, {"series": "Tremblay", "depth": 36.7, "density": 6200}, {"series": "Tremblay", "depth": 39.8, "density": 7030}, {"series": "Tremblay", "depth": 42.9, "density": 7569}, {"series": "Tremblay", "depth": 45.2, "density": 7983}, {"series": "Tremblay", "depth": 47.1, "density": 8091}, {"series": "Tremblay", "depth": 48.2, "density": 7776}, {"series": "Tremblay", "depth": 49.8, "density": 6697}, {"series": "Tremblay", "depth": 51.3, "density": 5618}, {"series": "Tremblay", "depth": 52.8, "density": 4540}, {"series": "Tremblay", "depth": 54.4, "density": 3710}, {"series": "Tremblay", "depth": 55.9, "density": 3420}, {"series": "Tremblay", "depth": 57.8, "density": 3378}, {"series": "Tremblay", "depth": 59.8, "density": 3544}, {"series": "Tremblay", "depth": 62.1, "density": 3959}, {"series": "Tremblay", "depth": 64.4, "density": 4208}, {"series": "Tremblay", "depth": 66.7, "density": 4374}, {"series": "Tremblay", "depth": 69, "density": 4457}, {"series": "Tremblay", "depth": 72, "density": 4374}, {"series": "Tremblay", "depth": 75.1, "density": 4249}, {"series": "Tremblay", "depth": 78.2, "density": 3876}, {"series": "Tremblay", "depth": 80.5, "density": 3378}, {"series": "Tremblay", "depth": 82.8, "density": 2797}, {"series": "Tremblay", "depth": 85.1, "density": 2133}, {"series": "Tremblay", "depth": 87.4, "density": 1469}, {"series": "Tremblay", "depth": 90.5, "density": 1178}, {"series": "Tremblay", "depth": 93.5, "density": 930}, {"series": "Tremblay", "depth": 96.6, "density": 680}, {"series": "Tremblay", "depth": 100, "density": 473}
    ],
    "F": [
      {"series": "Gonchar", "depth": 1.2, "density": 36}, {"series": "Gonchar", "depth": 3.1, "density": 140}, {"series": "Gonchar", "depth": 5, "density": 398}, {"series": "Gonchar", "depth": 6.5, "density": 657}, {"series": "Gonchar", "depth": 8.4, "density": 812}, {"series": "Gonchar", "depth": 10, "density": 822}, {"series": "Gonchar", "depth": 11.9, "density": 786}, {"series": "Gonchar", "depth": 13.4, "density": 812}, {"series": "Gonchar", "depth": 15, "density": 1148}, {"series": "Gonchar", "depth": 16.5, "density": 1226}, {"series": "Gonchar", "depth": 18, "density": 1148}, {"series": "Gonchar", "depth": 20.3, "density": 967}, {"series": "Gonchar", "depth": 21.9, "density": 1070}, {"series": "Gonchar", "depth": 23, "density": 1122}, {"series": "Gonchar", "depth": 24.2, "density": 1070}, {"series": "Gonchar", "depth": 25.3, "density": 1045}, {"series": "Gonchar", "depth": 26.5, "density": 1226}, {"series": "Gonchar", "depth": 28, "density": 1613}, {"series": "Gonchar", "depth": 30.3, "density": 1691}, {"series": "Gonchar", "depth": 33, "density": 1665}, {"series": "Gonchar", "depth": 34.9, "density": 2200}, {"series": "Gonchar", "depth": 36.8, "density": 2600}, {"series": "Gonchar", "depth": 38.5, "density": 2800}, {"series": "Gonchar", "depth": 40.5, "density": 2950}, {"series": "Gonchar", "depth": 41.8, "density": 2930}, {"series": "Gonchar", "depth": 43, "density": 2780}, {"series": "Gonchar", "depth": 45.7, "density": 2790}, {"series": "Gonchar", "depth": 47.2, "density": 2720}, {"series": "Gonchar", "depth": 48.5, "density": 2600}, {"series": "Gonchar", "depth": 50.5, "density": 2700}, {"series": "Gonchar", "depth": 52.2, "density": 2850}, {"series": "Gonchar", "depth": 53.9, "density": 3200}, {"series": "Gonchar", "depth": 55.3, "density": 2700}, {"series": "Gonchar", "depth": 56.8, "density": 1950}, {"series": "Gonchar", "depth": 58.3, "density": 1790}, {"series": "Gonchar", "depth": 59.5, "density": 1820}, {"series": "Gonchar", "depth": 61.4, "density": 2260}, {"series": "Gonchar", "depth": 62.5, "density": 2260}, {"series": "Gonchar", "depth": 64.1, "density": 2130}, {"series": "Gonchar", "depth": 66, "density": 1975}, {"series": "Gonchar", "depth": 67.2, "density": 2105}, {"series": "Gonchar", "depth": 69.1, "density": 2932}, {"series": "Gonchar", "depth": 70.6, "density": 2518}, {"series": "Gonchar", "depth": 72.1, "density": 2027}, {"series": "Gonchar", "depth": 74.4, "density": 2286}, {"series": "Gonchar", "depth": 76.4, "density": 2156}, {"series": "Gonchar", "depth": 78.7, "density": 1794}, {"series": "Gonchar", "depth": 81, "density": 1639}, {"series": "Gonchar", "depth": 84, "density": 1484}, {"series": "Gonchar", "depth": 86.3, "density": 1500}, {"series": "Gonchar", "depth": 88.6, "density": 1406}, {"series": "Gonchar", "depth": 90.9, "density": 1200}, {"series": "Gonchar", "depth": 92.5, "density": 1200}, {"series": "Gonchar", "depth": 96.3, "density": 941}, {"series": "Gonchar", "depth": 100, "density": 605},
      {"series": "Lee", "depth": 0.8, "density": 36}, {"series": "Lee", "depth": 1.9, "density": 114}, {"series": "Lee", "depth": 3.5, "density": 424}, {"series": "Lee", "depth": 5, "density": 605}, {"series": "Lee", "depth": 6.1, "density": 683}, {"series": "Lee", "depth": 7.7, "density": 889}, {"series": "Lee", "depth": 9.4, "density": 967}, {"series": "Lee", "depth": 10.7, "density": 915}, {"series": "Lee", "depth": 11.9, "density": 864}, {"series": "Lee", "depth": 13, "density": 801}, {"series": "Lee", "depth": 14.2, "density": 993}, {"series": "Lee", "depth": 15.7, "density": 1122}, {"series": "Lee", "depth": 17.3, "density": 1096}, {"series": "Lee", "depth": 18.8, "density": 967}, {"series": "Lee", "depth": 20.3, "density": 812}, {"series": "Lee", "depth": 21.5, "density": 838}, {"series": "Lee", "depth": 23, "density": 941}, {"series": "Lee", "depth": 24.9, "density": 941}, {"series": "Lee", "depth": 26.5, "density": 1200}, {"series": "Lee", "depth": 27.6, "density": 1406}, {"series": "Lee", "depth": 28.8, "density": 1743}, {"series": "Lee", "depth": 30.3, "density": 1820}, {"series": "Lee", "depth": 31.8, "density": 1939}, {"series": "Lee", "depth": 33.2, "density": 1975}, {"series": "Lee", "depth": 34.5, "density": 2518}, {"series": "Lee", "depth": 35.7, "density": 3061}, {"series": "Lee", "depth": 37.1, "density": 3527}, {"series": "Lee", "depth": 38.8, "density": 3914}, {"series": "Lee", "depth": 40.3, "density": 4209}, {"series": "Lee", "depth": 41.8, "density": 4209}, {"series": "Lee", "depth": 43, "density": 4070}, {"series": "Lee", "depth": 45.7, "density": 4199}, {"series": "Lee", "depth": 48, "density": 4070}, {"series": "Lee", "depth": 49.1, "density": 4121}, {"series": "Lee", "depth": 51, "density": 4432}, {"series": "Lee", "depth": 52.2, "density": 4819}, {"series": "Lee", "depth": 53.9, "density": 5336}, {"series": "Lee", "depth": 55.3, "density": 4587}, {"series": "Lee", "depth": 56.8, "density": 3190}, {"series": "Lee", "depth": 58.3, "density": 3087}, {"series": "Lee", "depth": 59.5, "density": 3190}, {"series": "Lee", "depth": 61, "density": 3925}, {"series": "Lee", "depth": 62.2, "density": 3940}, {"series": "Lee", "depth": 63.7, "density": 3656}, {"series": "Lee", "depth": 65.6, "density": 3552}, {"series": "Lee", "depth": 66.8, "density": 3811}, {"series": "Lee", "depth": 69.1, "density": 5321}, {"series": "Lee", "depth": 71, "density": 4432}, {"series": "Lee", "depth": 72.1, "density": 3708}, {"series": "Lee", "depth": 73.7, "density": 4070}, {"series": "Lee", "depth": 74.8, "density": 4225}, {"series": "Lee", "depth": 76.4, "density": 4018}, {"series": "Lee", "depth": 77.5, "density": 3708}, {"series": "Lee", "depth": 79.4, "density": 3190}, {"series": "Lee", "depth": 81.7, "density": 2854}, {"series": "Lee", "depth": 83.7, "density": 2932}, {"series": "Lee", "depth": 85.2, "density": 2958}, {"series": "Lee", "depth": 86.7, "density": 2803}, {"series": "Lee", "depth": 88.3, "density": 2622}, {"series": "Lee", "depth": 90.2, "density": 2322}, {"series": "Lee", "depth": 91.7, "density": 2311}, {"series": "Lee", "depth": 93.2, "density": 2156}, {"series": "Lee", "depth": 95.5, "density": 1691}, {"series": "Lee", "depth": 97.8, "density": 1432}, {"series": "Lee", "depth": 100, "density": 1148},
      {"series": "Meyer", "depth": 1.8, "density": 0}, {"series": "Meyer", "depth": 3.5, "density": 140}, {"series": "Meyer", "depth": 5, "density": 372}, {"series": "Meyer", "depth": 6.9, "density": 631}, {"series": "Meyer", "depth": 8.4, "density": 838}, {"series": "Meyer", "depth": 10, "density": 1019}, {"series": "Meyer", "depth": 11.5, "density": 1096}, {"series": "Meyer", "depth": 13, "density": 1148}, {"series": "Meyer", "depth": 14.2, "density": 1639}, {"series": "Meyer", "depth": 15.6, "density": 2518}, {"series": "Meyer", "depth": 17.3, "density": 3268}, {"series": "Meyer", "depth": 18, "density": 3165}, {"series": "Meyer", "depth": 19.2, "density": 2803}, {"series": "Meyer", "depth": 20.5, "density": 1950}, {"series": "Meyer", "depth": 21.9, "density": 1872}, {"series": "Meyer", "depth": 23.3, "density": 1898}, {"series": "Meyer", "depth": 24.6, "density": 1588}, {"series": "Meyer", "depth": 25.7, "density": 1200}, {"series": "Meyer", "depth": 27.2, "density": 1200}, {"series": "Meyer", "depth": 28.8, "density": 1070}, {"series": "Meyer", "depth": 30.3, "density": 657}, {"series": "Meyer", "depth": 31.5, "density": 191}, {"series": "Meyer", "depth": 32.5, "density": 140}, {"series": "Meyer", "depth": 33.5, "density": 346}, {"series": "Meyer", "depth": 34.5, "density": 1381}, {"series": "Meyer", "depth": 36.1, "density": 2725}, {"series": "Meyer", "depth": 38, "density": 3708}, {"series": "Meyer", "depth": 39.7, "density": 4070}, {"series": "Meyer", "depth": 40.9, "density": 4018}, {"series": "Meyer", "depth": 42.2, "density": 3708}, {"series": "Meyer", "depth": 43.7, "density": 3501}, {"series": "Meyer", "depth": 45.3, "density": 3423}, {"series": "Meyer", "depth": 46.8, "density": 3682}, {"series": "Meyer", "depth": 48.3, "density": 3760}, {"series": "Meyer", "depth": 49.9, "density": 3552}, {"series": "Meyer", "depth": 51.4, "density": 3035}, {"series": "Meyer", "depth": 53.3, "density": 2415}, {"series": "Meyer", "depth": 54.9, "density": 2234}, {"series": "Meyer", "depth": 56, "density": 1950}, {"series": "Meyer", "depth": 57.6, "density": 1174}, {"series": "Meyer", "depth": 59.1, "density": 708}, {"series": "Meyer", "depth": 60.6, "density": 1070}, {"series": "Meyer", "depth": 61.8, "density": 1743}, {"series": "Meyer", "depth": 62.9, "density": 2156}, {"series": "Meyer", "depth": 64.5, "density": 2286}, {"series": "Meyer", "depth": 66.4, "density": 2234}, {"series": "Meyer", "depth": 67.5, "density": 2518}, {"series": "Meyer", "depth": 69.1, "density": 3346}, {"series": "Meyer", "depth": 70.2, "density": 3490}, {"series": "Meyer", "depth": 71.8, "density": 3294}, {"series": "Meyer", "depth": 73.3, "density": 2622}, {"series": "Meyer", "depth": 74.8, "density": 1800}, {"series": "Meyer", "depth": 76.4, "density": 1380}, {"series": "Meyer", "depth": 77.9, "density": 1300}, {"series": "Meyer", "depth": 79.4, "density": 1450}, {"series": "Meyer", "depth": 81.7, "density": 1520}, {"series": "Meyer", "depth": 82.9, "density": 1650}, {"series": "Meyer", "depth": 83.5, "density": 2450}, {"series": "Meyer", "depth": 84.4, "density": 2500}, {"series": "Meyer", "depth": 85.3, "density": 2150}, {"series": "Meyer", "depth": 86.3, "density": 1500}, {"series": "Meyer", "depth": 87.4, "density": 1400}, {"series": "Meyer", "depth": 88.6, "density": 1500}, {"series": "Meyer", "depth": 90, "density": 1950}, {"series": "Meyer", "depth": 91.5, "density": 2050}, {"series": "Meyer", "depth": 93, "density": 2080}, {"series": "Meyer", "depth": 94.2, "density": 2000}, {"series": "Meyer", "depth": 95.4, "density": 1700}, {"series": "Meyer", "depth": 96.6, "density": 1150}, {"series": "Meyer", "depth": 98, "density": 450}, {"series": "Meyer", "depth": 99.5, "density": 90},
      {"series": "Tremblay", "depth": 0.5, "density": 0}, {"series": "Tremblay", "depth": 1.9, "density": 88}, {"series": "Tremblay", "depth": 4.2, "density": 398}, {"series": "Tremblay", "depth": 6.5, "density": 553}, {"series": "Tremblay", "depth": 8.8, "density": 579}, {"series": "Tremblay", "depth": 11.1, "density": 657}, {"series": "Tremblay", "depth": 13.4, "density": 760}, {"series": "Tremblay", "depth": 15, "density": 967}, {"series": "Tremblay", "depth": 16.9, "density": 1226}, {"series": "Tremblay", "depth": 19.2, "density": 1355}, {"series": "Tremblay", "depth": 21.5, "density": 1355}, {"series": "Tremblay", "depth": 23.8, "density": 1277}, {"series": "Tremblay", "depth": 26.5, "density": 1200}, {"series": "Tremblay", "depth": 29.5, "density": 1148}, {"series": "Tremblay", "depth": 31.8, "density": 1122}, {"series": "Tremblay", "depth": 34.2, "density": 1148}, {"series": "Tremblay", "depth": 37.2, "density": 1226}, {"series": "Tremblay", "depth": 40.3, "density": 1329}, {"series": "Tremblay", "depth": 43.4, "density": 1458}, {"series": "Tremblay", "depth": 46.4, "density": 1691}, {"series": "Tremblay", "depth": 49.5, "density": 2001}, {"series": "Tremblay", "depth": 52.6, "density": 2415}, {"series": "Tremblay", "depth": 55.6, "density": 2880}, {"series": "Tremblay", "depth": 58.7, "density": 3294}, {"series": "Tremblay", "depth": 61.8, "density": 3630}, {"series": "Tremblay", "depth": 64.8, "density": 3811}, {"series": "Tremblay", "depth": 67.9, "density": 3914}, {"series": "Tremblay", "depth": 71, "density": 3914}, {"series": "Tremblay", "depth": 73.3, "density": 3837}, {"series": "Tremblay", "depth": 75.6, "density": 3552}, {"series": "Tremblay", "depth": 77.9, "density": 3139}, {"series": "Tremblay", "depth": 80.2, "density": 2622}, {"series": "Tremblay", "depth": 82.5, "density": 2105}, {"series": "Tremblay", "depth": 84.8, "density": 1691}, {"series": "Tremblay", "depth": 87.1, "density": 1381}, {"series": "Tremblay", "depth": 89.4, "density": 1122}, {"series": "Tremblay", "depth": 91.7, "density": 941}, {"series": "Tremblay", "depth": 94.8, "density": 786}, {"series": "Tremblay", "depth": 97.9, "density": 683}, {"series": "Tremblay", "depth": 100, "density": 631}
    ]
  },
  "vconcat": [
    {
      "concat": [
        {
          "width": 448, "height": 352,
          "layer": [
            {"data": {"name": "boundaries"}, "mark": {"type": "rule", "strokeDash": [7, 5], "color": "#4d4d4d", "strokeWidth": 1},
             "encoding": {"x": {"field": "depth", "type": "quantitative", "scale": {"domain": [0, 100], "nice": false}, "axis": {"orient": "top", "labels": false, "title": null, "values": [0,10,20,30,40,50,60,70,80,90,100]}},
                          "y": {"datum": 0, "type": "quantitative", "scale": {"domain": [0, 2.04], "nice": false}, "axis": {"orient": "right", "labels": false, "title": null, "values": [0,0.2,0.4,0.6,0.8,1,1.2,1.4,1.6,1.8,2]}},
                          "y2": {"datum": 2.04}}},
            {"data": {"name": "A"}, "transform": [{"filter": "datum.series == 'Tsai Neurons'"}], "mark": {"type": "line", "strokeWidth": 2},
             "encoding": {"x": {"field": "depth", "type": "quantitative", "scale": {"domain": [0, 100], "nice": false}, "axis": {"orient": "bottom", "title": "Fraction of Cortical Depth (Percent)", "values": [0,10,20,30,40,50,60,70,80,90,100], "format": "~f"}},
                          "y": {"field": "density", "type": "quantitative", "scale": {"domain": [0, 2.04], "nice": false}, "axis": {"orient": "left", "title": "Density (10⁵ cells/mm³)", "values": [0,0.2,0.4,0.6,0.8,1,1.2,1.4,1.6,1.8,2], "format": "~f"}},
                          "color": {"field": "series", "type": "nominal", "scale": {"domain": ["Tsai Neurons", "Meyer Neurons", "Tsai non-neurons"], "range": ["#7d6b26", "#d95319", "#edb120"]}, "legend": {"title": null, "symbolType": "M-1,0H5"}}}},
            {"data": {"name": "A"}, "transform": [{"filter": "datum.series != 'Tsai Neurons'"}], "mark": {"type": "line", "strokeWidth": 2, "interpolate": "monotone"},
             "encoding": {"x": {"field": "depth", "type": "quantitative", "scale": {"domain": [0, 100], "nice": false}, "axis": null},
                          "y": {"field": "density", "type": "quantitative", "scale": {"domain": [0, 2.04], "nice": false}, "axis": null},
                          "color": {"field": "series", "type": "nominal", "scale": {"domain": ["Tsai Neurons", "Meyer Neurons", "Tsai non-neurons"], "range": ["#7d6b26", "#d95319", "#edb120"]}, "legend": {"title": null, "symbolType": "M-1,0H5"}}}},
            {"data": {"name": "layers"}, "mark": {"type": "text", "font": "Open Sans", "fontSize": 26, "baseline": "alphabetic", "align": "center", "color": "#1a1a1a"},
             "encoding": {"x": {"field": "center", "type": "quantitative", "scale": {"domain": [0, 100], "nice": false}, "axis": null},
                          "y": {"datum": 0.064, "type": "quantitative", "scale": {"domain": [0, 2.04], "nice": false}, "axis": null},
                          "text": {"field": "layer"}}},
            {"data": {"name": "panels"}, "transform": [{"filter": "datum.panel == 'A'"}], "mark": {"type": "text", "font": "Open Sans", "fontSize": 36, "baseline": "alphabetic", "align": "center", "color": "#111111"},
             "encoding": {"x": {"datum": 50, "type": "quantitative", "scale": {"domain": [0, 100], "nice": false}, "axis": null},
                          "y": {"datum": 2.1095, "type": "quantitative", "scale": {"domain": [0, 2.04], "nice": false}, "axis": null},
                          "text": {"field": "title"}}},
            {"data": {"name": "panels"}, "transform": [{"filter": "datum.panel == 'A'"}], "mark": {"type": "text", "font": "Liberation Sans", "fontSize": 18, "fontWeight": "bold", "baseline": "middle", "align": "center", "color": "#111111"},
             "encoding": {"x": {"datum": -11.4, "type": "quantitative", "scale": {"domain": [0, 100], "nice": false}, "axis": null},
                          "y": {"datum": 2.173, "type": "quantitative", "scale": {"domain": [0, 2.04], "nice": false}, "axis": null},
                          "text": {"field": "panel"}}}
          ],
          "resolve": {"axis": {"x": "independent", "y": "independent"}}
        },
        {
          "width": 448, "height": 352,
          "layer": [
            {"data": {"name": "boundaries"}, "mark": {"type": "rule", "strokeDash": [7, 5], "color": "#4d4d4d", "strokeWidth": 1},
             "encoding": {"x": {"field": "depth", "type": "quantitative", "scale": {"domain": [0, 100], "nice": false}, "axis": {"orient": "top", "labels": false, "title": null, "values": [0,10,20,30,40,50,60,70,80,90,100]}},
                          "y": {"datum": 0, "type": "quantitative", "scale": {"domain": [0, 17000], "nice": false}, "axis": {"orient": "right", "labels": false, "title": null, "values": [0,2000,4000,6000,8000,10000,12000,14000,16000]}},
                          "y2": {"datum": 17000}}},
            {"data": {"name": "B"}, "transform": [{"filter": "datum.series == 'Meyer'"}], "mark": {"type": "line", "strokeWidth": 2},
             "encoding": {"x": {"field": "depth", "type": "quantitative", "scale": {"domain": [0, 100], "nice": false}, "axis": {"orient": "bottom", "title": "Fraction of Cortical Depth (Percent)", "values": [0,10,20,30,40,50,60,70,80,90,100], "format": "~f"}},
                          "y": {"field": "density", "type": "quantitative", "scale": {"domain": [0, 17000], "nice": false}, "axis": {"orient": "left", "title": "Density (cells/mm ³)", "values": [0,2000,4000,6000,8000,10000,12000,14000,16000], "format": "~f"}},
                          "color": {"field": "series", "type": "nominal", "scale": {"domain": ["Inferred Lefort", "Meyer"], "range": ["#bf80cf", "#d95319"]}, "legend": {"title": null, "symbolType": "M-1,0H5"}}}},
            {"data": {"name": "B"}, "transform": [{"filter": "datum.series == 'Inferred Lefort'"}], "mark": {"type": "line", "strokeWidth": 2, "interpolate": "monotone"},
             "encoding": {"x": {"field": "depth", "type": "quantitative", "scale": {"domain": [0, 100], "nice": false}, "axis": null},
                          "y": {"field": "density", "type": "quantitative", "scale": {"domain": [0, 17000], "nice": false}, "axis": null},
                          "color": {"field": "series", "type": "nominal", "scale": {"domain": ["Inferred Lefort", "Meyer"], "range": ["#bf80cf", "#d95319"]}, "legend": {"title": null, "symbolType": "M-1,0H5"}}}},
            {"data": {"name": "layers"}, "mark": {"type": "text", "font": "Open Sans", "fontSize": 26, "baseline": "alphabetic", "align": "center", "color": "#1a1a1a"},
             "encoding": {"x": {"field": "center", "type": "quantitative", "scale": {"domain": [0, 100], "nice": false}, "axis": null},
                          "y": {"datum": 531, "type": "quantitative", "scale": {"domain": [0, 17000], "nice": false}, "axis": null},
                          "text": {"field": "layer"}}},
            {"data": {"name": "panels"}, "transform": [{"filter": "datum.panel == 'B'"}], "mark": {"type": "text", "font": "Open Sans", "fontSize": 36, "baseline": "alphabetic", "align": "center", "color": "#111111"},
             "encoding": {"x": {"datum": 50, "type": "quantitative", "scale": {"domain": [0, 100], "nice": false}, "axis": null},
                          "y": {"datum": 17676, "type": "quantitative", "scale": {"domain": [0, 17000], "nice": false}, "axis": null},
                          "text": {"field": "title"}}},
            {"data": {"name": "panels"}, "transform": [{"filter": "datum.panel == 'B'"}], "mark": {"type": "text", "font": "Liberation Sans", "fontSize": 18, "fontWeight": "bold", "baseline": "middle", "align": "center", "color": "#111111"},
             "encoding": {"x": {"datum": -14.1, "type": "quantitative", "scale": {"domain": [0, 100], "nice": false}, "axis": null},
                          "y": {"datum": 18111, "type": "quantitative", "scale": {"domain": [0, 17000], "nice": false}, "axis": null},
                          "text": {"field": "panel"}}}
          ],
          "resolve": {"axis": {"x": "independent", "y": "independent"}}
        },
        {
          "width": 448, "height": 352,
          "layer": [
            {"data": {"name": "boundaries"}, "mark": {"type": "rule", "strokeDash": [7, 5], "color": "#4d4d4d", "strokeWidth": 1},
             "encoding": {"x": {"field": "depth", "type": "quantitative", "scale": {"domain": [0, 100], "nice": false}, "axis": {"orient": "top", "labels": false, "title": null, "values": [0,10,20,30,40,50,60,70,80,90,100]}},
                          "y": {"datum": 0, "type": "quantitative", "scale": {"domain": [0, 12700], "nice": false}, "axis": {"orient": "right", "labels": false, "title": null, "values": [0,2000,4000,6000,8000,10000,12000]}},
                          "y2": {"datum": 12700}}},
            {"data": {"name": "C"}, "mark": {"type": "line", "strokeWidth": 2},
             "encoding": {"x": {"field": "depth", "type": "quantitative", "scale": {"domain": [0, 100], "nice": false}, "axis": {"orient": "bottom", "title": "Fraction of Cortical Depth (Percent)", "values": [0,10,20,30,40,50,60,70,80,90,100], "format": "~f"}},
                          "y": {"field": "density", "type": "quantitative", "scale": {"domain": [0, 12700], "nice": false}, "axis": {"orient": "left", "title": "Density (cells/mm ³)", "values": [0,2000,4000,6000,8000,10000,12000], "format": "~f"}},
                          "color": {"field": "series", "type": "nominal", "scale": {"domain": ["Lee"], "range": ["#000000"]}, "legend": {"title": null, "symbolType": "M-1,0H5"}}}},
            {"data": {"name": "layers"}, "mark": {"type": "text", "font": "Open Sans", "fontSize": 26, "baseline": "alphabetic", "align": "center", "color": "#1a1a1a"},
             "encoding": {"x": {"field": "center", "type": "quantitative", "scale": {"domain": [0, 100], "nice": false}, "axis": null},
                          "y": {"datum": 397, "type": "quantitative", "scale": {"domain": [0, 12700], "nice": false}, "axis": null},
                          "text": {"field": "layer"}}},
            {"data": {"name": "panels"}, "transform": [{"filter": "datum.panel == 'C'"}], "mark": {"type": "text", "font": "Open Sans", "fontSize": 36, "baseline": "alphabetic", "align": "center", "color": "#111111"},
             "encoding": {"x": {"datum": 50, "type": "quantitative", "scale": {"domain": [0, 100], "nice": false}, "axis": null},
                          "y": {"datum": 12989, "type": "quantitative", "scale": {"domain": [0, 12700], "nice": false}, "axis": null},
                          "text": {"field": "title"}}},
            {"data": {"name": "panels"}, "transform": [{"filter": "datum.panel == 'C'"}], "mark": {"type": "text", "font": "Liberation Sans", "fontSize": 18, "fontWeight": "bold", "baseline": "middle", "align": "center", "color": "#111111"},
             "encoding": {"x": {"datum": -11.2, "type": "quantitative", "scale": {"domain": [0, 100], "nice": false}, "axis": null},
                          "y": {"datum": 13746, "type": "quantitative", "scale": {"domain": [0, 12700], "nice": false}, "axis": null},
                          "text": {"field": "panel"}}}
          ],
          "resolve": {"axis": {"x": "independent", "y": "independent"}}
        },
        {
          "width": 448, "height": 352,
          "layer": [
            {"data": {"name": "boundaries"}, "mark": {"type": "rule", "strokeDash": [7, 5], "color": "#4d4d4d", "strokeWidth": 1},
             "encoding": {"x": {"field": "depth", "type": "quantitative", "scale": {"domain": [0, 100], "nice": false}, "axis": {"orient": "top", "labels": false, "title": null, "values": [0,10,20,30,40,50,60,70,80,90,100]}},
                          "y": {"datum": 0, "type": "quantitative", "scale": {"domain": [0, 2430], "nice": false}, "axis": {"orient": "right", "labels": false, "title": null, "values": [0,500,1000,1500,2000]}},
                          "y2": {"datum": 2430}}},
            {"data": {"name": "D"}, "mark": {"type": "line", "strokeWidth": 2},
             "encoding": {"x": {"field": "depth", "type": "quantitative", "scale": {"domain": [0, 100], "nice": false}, "axis": {"orient": "bottom", "title": "Fraction of Cortical Depth (Percent)", "values": [0,10,20,30,40,50,60,70,80,90,100], "format": "~f"}},
                          "y": {"field": "density", "type": "quantitative", "scale": {"domain": [0, 2430], "nice": false}, "axis": {"orient": "left", "title": "Density (cells/mm ³)", "values": [0,500,1000,1500,2000], "format": "~f"}},
                          "color": {"field": "series", "type": "nominal", "scale": {"domain": ["Gonchar", "Meyer"], "range": ["#0072bd", "#d95319"]}, "legend": {"title": null, "symbolType": "M-1,0H5"}}}},
            {"data": {"name": "layers"}, "mark": {"type": "text", "font": "Open Sans", "fontSize": 26, "baseline": "alphabetic", "align": "center", "color": "#1a1a1a"},
             "encoding": {"x": {"field": "center", "type": "quantitative", "scale": {"domain": [0, 100], "nice": false}, "axis": null},
                          "y": {"datum": 76, "type": "quantitative", "scale": {"domain": [0, 2430], "nice": false}, "axis": null},
                          "text": {"field": "layer"}}},
            {"data": {"name": "panels"}, "transform": [{"filter": "datum.panel == 'D'"}], "mark": {"type": "text", "font": "Open Sans", "fontSize": 36, "baseline": "alphabetic", "align": "center", "color": "#111111"},
             "encoding": {"x": {"datum": 50, "type": "quantitative", "scale": {"domain": [0, 100], "nice": false}, "axis": null},
                          "y": {"datum": 2485, "type": "quantitative", "scale": {"domain": [0, 2430], "nice": false}, "axis": null},
                          "text": {"field": "title"}}},
            {"data": {"name": "panels"}, "transform": [{"filter": "datum.panel == 'D'"}], "mark": {"type": "text", "font": "Liberation Sans", "fontSize": 18, "fontWeight": "bold", "baseline": "middle", "align": "center", "color": "#111111"},
             "encoding": {"x": {"datum": -14.1, "type": "quantitative", "scale": {"domain": [0, 100], "nice": false}, "axis": null},
                          "y": {"datum": 2630, "type": "quantitative", "scale": {"domain": [0, 2430], "nice": false}, "axis": null},
                          "text": {"field": "panel"}}}
          ],
          "resolve": {"axis": {"x": "independent", "y": "independent"}}
        },
        {
          "width": 448, "height": 352,
          "layer": [
            {"data": {"name": "boundaries"}, "mark": {"type": "rule", "strokeDash": [7, 5], "color": "#4d4d4d", "strokeWidth": 1},
             "encoding": {"x": {"field": "depth", "type": "quantitative", "scale": {"domain": [0, 100], "nice": false}, "axis": {"orient": "top", "labels": false, "title": null, "values": [0,10,20,30,40,50,60,70,80,90,100]}},
                          "y": {"datum": 0, "type": "quantitative", "scale": {"domain": [0, 8800], "nice": false}, "axis": {"orient": "right", "labels": false, "title": null, "values": [0,1000,2000,3000,4000,5000,6000,7000,8000]}},
                          "y2": {"datum": 8800}}},
            {"data": {"name": "E"}, "transform": [{"filter": "datum.series != 'Tremblay'"}], "mark": {"type": "line", "strokeWidth": 2},
             "encoding": {"x": {"field": "depth", "type": "quantitative", "scale": {"domain": [0, 100], "nice": false}, "axis": {"orient": "bottom", "title": "Fraction of Cortical Depth (Percent)", "values": [0,10,20,30,40,50,60,70,80,90,100], "format": "~f"}},
                          "y": {"field": "density", "type": "quantitative", "scale": {"domain": [0, 8800], "nice": false}, "axis": {"orient": "left", "title": "Density (cells/mm ³)", "values": [0,1000,2000,3000,4000,5000,6000,7000,8000], "format": "~f"}},
                          "color": {"field": "series", "type": "nominal", "scale": {"domain": ["Gonchar", "Lee", "Meyer", "Tremblay"], "range": ["#0072bd", "#000000", "#d95319", "#a589bd"]}, "legend": {"title": null, "symbolType": "M-1,0H5"}}}},
            {"data": {"name": "E"}, "transform": [{"filter": "datum.series == 'Tremblay'"}], "mark": {"type": "line", "strokeWidth": 0.9, "interpolate": "monotone"},
             "encoding": {"x": {"field": "depth", "type": "quantitative", "scale": {"domain": [0, 100], "nice": false}, "axis": null},
                          "y": {"field": "density", "type": "quantitative", "scale": {"domain": [0, 8800], "nice": false}, "axis": null},
                          "color": {"field": "series", "type": "nominal", "scale": {"domain": ["Gonchar", "Lee", "Meyer", "Tremblay"], "range": ["#0072bd", "#000000", "#d95319", "#a589bd"]}, "legend": {"title": null, "symbolType": "M-1,0H5"}}}},
            {"data": {"name": "layers"}, "mark": {"type": "text", "font": "Open Sans", "fontSize": 26, "baseline": "alphabetic", "align": "center", "color": "#1a1a1a"},
             "encoding": {"x": {"field": "center", "type": "quantitative", "scale": {"domain": [0, 100], "nice": false}, "axis": null},
                          "y": {"datum": 275, "type": "quantitative", "scale": {"domain": [0, 8800], "nice": false}, "axis": null},
                          "text": {"field": "layer"}}},
            {"data": {"name": "panels"}, "transform": [{"filter": "datum.panel == 'E'"}], "mark": {"type": "text", "font": "Open Sans", "fontSize": 36, "baseline": "alphabetic", "align": "center", "color": "#111111"},
             "encoding": {"x": {"datum": 50, "type": "quantitative", "scale": {"domain": [0, 100], "nice": false}, "axis": null},
                          "y": {"datum": 8975, "type": "quantitative", "scale": {"domain": [0, 8800], "nice": false}, "axis": null},
                          "text": {"field": "title"}}},
            {"data": {"name": "panels"}, "transform": [{"filter": "datum.panel == 'E'"}], "mark": {"type": "text", "font": "Liberation Sans", "fontSize": 18, "fontWeight": "bold", "baseline": "middle", "align": "center", "color": "#111111"},
             "encoding": {"x": {"datum": -11.6, "type": "quantitative", "scale": {"domain": [0, 100], "nice": false}, "axis": null},
                          "y": {"datum": 9275, "type": "quantitative", "scale": {"domain": [0, 8800], "nice": false}, "axis": null},
                          "text": {"field": "panel"}}}
          ],
          "resolve": {"axis": {"x": "independent", "y": "independent"}}
        },
        {
          "width": 448, "height": 352,
          "layer": [
            {"data": {"name": "boundaries"}, "mark": {"type": "rule", "strokeDash": [7, 5], "color": "#4d4d4d", "strokeWidth": 1},
             "encoding": {"x": {"field": "depth", "type": "quantitative", "scale": {"domain": [0, 100], "nice": false}, "axis": {"orient": "top", "labels": false, "title": null, "values": [0,10,20,30,40,50,60,70,80,90,100]}},
                          "y": {"datum": 0, "type": "quantitative", "scale": {"domain": [0, 5500], "nice": false}, "axis": {"orient": "right", "labels": false, "title": null, "values": [0,1000,2000,3000,4000,5000]}},
                          "y2": {"datum": 5500}}},
            {"data": {"name": "F"}, "transform": [{"filter": "datum.series != 'Tremblay'"}], "mark": {"type": "line", "strokeWidth": 2},
             "encoding": {"x": {"field": "depth", "type": "quantitative", "scale": {"domain": [0, 100], "nice": false}, "axis": {"orient": "bottom", "title": "Fraction of Cortical Depth (Percent)", "values": [0,10,20,30,40,50,60,70,80,90,100], "format": "~f"}},
                          "y": {"field": "density", "type": "quantitative", "scale": {"domain": [0, 5500], "nice": false}, "axis": {"orient": "left", "title": "Density (cells/mm ³)", "values": [0,1000,2000,3000,4000,5000], "format": "~f"}},
                          "color": {"field": "series", "type": "nominal", "scale": {"domain": ["Gonchar", "Lee", "Meyer", "Tremblay"], "range": ["#0072bd", "#000000", "#d95319", "#a589bd"]}, "legend": {"title": null, "symbolType": "M-1,0H5"}}}},
            {"data": {"name": "F"}, "transform": [{"filter": "datum.series == 'Tremblay'"}], "mark": {"type": "line", "strokeWidth": 0.9, "interpolate": "monotone"},
             "encoding": {"x": {"field": "depth", "type": "quantitative", "scale": {"domain": [0, 100], "nice": false}, "axis": null},
                          "y": {"field": "density", "type": "quantitative", "scale": {"domain": [0, 5500], "nice": false}, "axis": null},
                          "color": {"field": "series", "type": "nominal", "scale": {"domain": ["Gonchar", "Lee", "Meyer", "Tremblay"], "range": ["#0072bd", "#000000", "#d95319", "#a589bd"]}, "legend": {"title": null, "symbolType": "M-1,0H5"}}}},
            {"data": {"name": "layers"}, "mark": {"type": "text", "font": "Open Sans", "fontSize": 26, "baseline": "alphabetic", "align": "center", "color": "#1a1a1a"},
             "encoding": {"x": {"field": "center", "type": "quantitative", "scale": {"domain": [0, 100], "nice": false}, "axis": null},
                          "y": {"datum": 172, "type": "quantitative", "scale": {"domain": [0, 5500], "nice": false}, "axis": null},
                          "text": {"field": "layer"}}},
            {"data": {"name": "panels"}, "transform": [{"filter": "datum.panel == 'F'"}], "mark": {"type": "text", "font": "Open Sans", "fontSize": 36, "baseline": "alphabetic", "align": "center", "color": "#111111"},
             "encoding": {"x": {"datum": 50, "type": "quantitative", "scale": {"domain": [0, 100], "nice": false}, "axis": null},
                          "y": {"datum": 5609, "type": "quantitative", "scale": {"domain": [0, 5500], "nice": false}, "axis": null},
                          "text": {"field": "title"}}},
            {"data": {"name": "panels"}, "transform": [{"filter": "datum.panel == 'F'"}], "mark": {"type": "text", "font": "Liberation Sans", "fontSize": 18, "fontWeight": "bold", "baseline": "middle", "align": "center", "color": "#111111"},
             "encoding": {"x": {"datum": -14.1, "type": "quantitative", "scale": {"domain": [0, 100], "nice": false}, "axis": null},
                          "y": {"datum": 5797, "type": "quantitative", "scale": {"domain": [0, 5500], "nice": false}, "axis": null},
                          "text": {"field": "panel"}}}
          ],
          "resolve": {"axis": {"x": "independent", "y": "independent"}}
        }
      ],
      "columns": 2,
      "spacing": {"row": 96, "column": 129},
      "bounds": "flush",
      "resolve": {"scale": {"color": "independent"}, "legend": {"color": "independent"}}
    },
    {
      "width": 1200, "height": 200,
      "view": {"stroke": null},
      "data": {"name": "caption"},
      "mark": {"type": "text", "align": "left", "baseline": "middle", "font": "Liberation Sans", "fontSize": 17.5, "color": "#2b2b2b", "dx": -92},
      "encoding": {
        "x": {"datum": 0, "type": "quantitative", "scale": {"domain": [0, 1]}, "axis": null},
        "y": {"field": "line", "type": "ordinal", "axis": null, "scale": {"paddingInner": 0, "paddingOuter": 0}},
        "text": {"field": "text"}
      }
    }
  ],
  "spacing": 44,
  "center": true,
  "resolve": {"scale": {"color": "independent"}, "legend": {"color": "independent"}}
}
